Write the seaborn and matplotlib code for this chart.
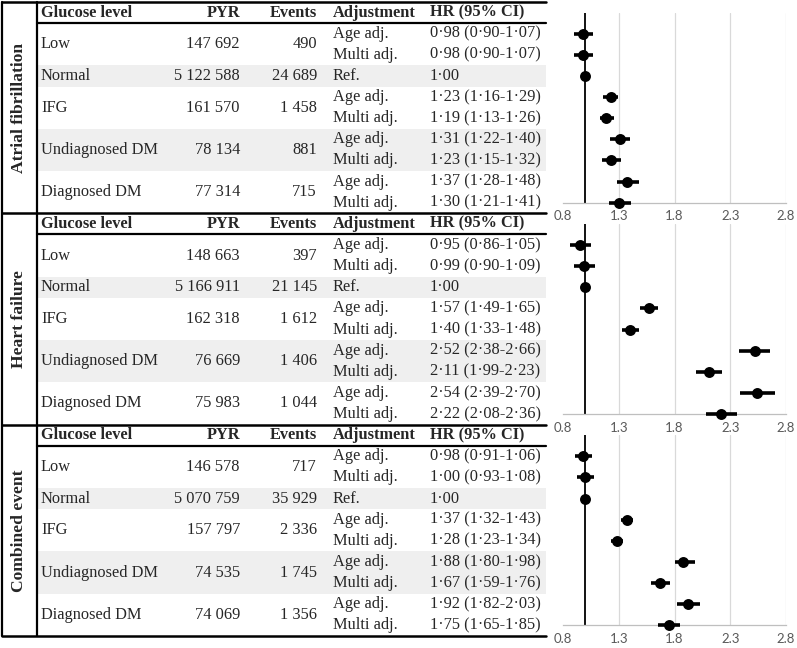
import numpy as np
import pandas as pd
import matplotlib.pyplot as plt
from matplotlib.patches import Rectangle
import seaborn as sns

# ---- data ----
outcomes = ["Atrial fibrillation", "Heart failure", "Combined event"]
glucose_levels = ["Low", "Normal", "IFG", "Undiagnosed DM", "Diagnosed DM"]
adjustments = ["Age adj.", "Multi adj.", "Ref.", "Age adj.", "Multi adj.",
               "Age adj.", "Multi adj.", "Age adj.", "Multi adj."]

pyr_af = [147692, 5122588, 161570, 78134, 77314]
events_af = [490, 24689, 1458, 881, 715]
hr_af = [0.98, 0.98, 1.00, 1.23, 1.19, 1.31, 1.23, 1.37, 1.30]
lo_af = [0.90, 0.90, np.nan, 1.16, 1.13, 1.22, 1.15, 1.28, 1.21]
hi_af = [1.07, 1.07, np.nan, 1.29, 1.26, 1.40, 1.32, 1.48, 1.41]

pyr_hf = [148663, 5166911, 162318, 76669, 75983]
events_hf = [397, 21145, 1612, 1406, 1044]
hr_hf = [0.95, 0.99, 1.00, 1.57, 1.40, 2.52, 2.11, 2.54, 2.22]
lo_hf = [0.86, 0.90, np.nan, 1.49, 1.33, 2.38, 1.99, 2.39, 2.08]
hi_hf = [1.05, 1.09, np.nan, 1.65, 1.48, 2.66, 2.23, 2.70, 2.36]

pyr_ce = [146578, 5070759, 157797, 74535, 74069]
events_ce = [717, 35929, 2336, 1745, 1356]
hr_ce = [0.98, 1.00, 1.00, 1.37, 1.28, 1.88, 1.67, 1.92, 1.75]
lo_ce = [0.91, 0.93, np.nan, 1.32, 1.23, 1.80, 1.59, 1.82, 1.65]
hi_ce = [1.06, 1.08, np.nan, 1.43, 1.34, 1.98, 1.76, 2.03, 1.85]

x_ticks = [0.8, 1.3, 1.8, 2.3, 2.8]

sections = [
    (pyr_af, events_af, hr_af, lo_af, hi_af),
    (pyr_hf, events_hf, hr_hf, lo_hf, hi_hf),
    (pyr_ce, events_ce, hr_ce, lo_ce, hi_ce),
]

# rows of each glucose level inside a section (row 0 is the header)
level_rows = [(1, 2), (3,), (4, 5), (6, 7), (8, 9)]
shaded_rows = [3, 6, 7]


def fmt_int(n):
    return f"{n:,}".replace(",", " ")


def fmt_hr(v):
    return f"{v:.2f}".replace(".", "·")


sns.set_style("white")
plt.rcParams['font.family'] = ['Liberation Serif', 'DejaVu Serif']

W, H = 797, 648
fig = plt.figure(figsize=(W / 100, H / 100), dpi=100)

# table drawn in pixel coordinates
tab = fig.add_axes([0, 0, 1, 1])
tab.set_xlim(0, W)
tab.set_ylim(H, 0)
tab.axis("off")

top = 2
rh = 21.13
x_left, x_lab, x_right = 2, 37, 546
fs = 11.8


def row_y(k, r):
    return top + k * 10 * rh + (r + 0.5) * rh


for k, (pyr, ev, hr, lo, hi) in enumerate(sections):
    s_top = top + k * 10 * rh
    for r in shaded_rows:
        tab.add_patch(Rectangle((x_lab, s_top + r * rh), x_right - x_lab, rh,
                                color="#efefef", lw=0, zorder=0))
    # header
    yh = row_y(k, 0)
    tab.text(41, yh, "Glucose level", fontweight="bold", fontsize=fs, va="center")
    tab.text(240, yh, "PYR", fontweight="bold", fontsize=fs, va="center", ha="right")
    tab.text(317, yh, "Events", fontweight="bold", fontsize=fs, va="center", ha="right")
    tab.text(333, yh, "Adjustment", fontweight="bold", fontsize=fs, va="center")
    tab.text(430, yh, "HR (95% CI)", fontweight="bold", fontsize=fs, va="center")
    tab.plot([x_lab, x_right], [s_top + rh, s_top + rh], color="black", lw=1.6)

    # outcome label
    tab.text((x_left + x_lab) / 2, s_top + 5 * rh, outcomes[k], rotation=90,
             fontweight="bold", fontsize=fs + 0.8, ha="center", va="center")

    for i, rows in enumerate(level_rows):
        yc = np.mean([row_y(k, r) for r in rows])
        tab.text(41, yc, glucose_levels[i], fontsize=fs, va="center")
        tab.text(240, yc, fmt_int(pyr[i]), fontsize=fs, va="center", ha="right")
        tab.text(317, yc, fmt_int(ev[i]), fontsize=fs, va="center", ha="right")

    for j in range(9):
        y = row_y(k, j + 1)
        tab.text(333, y, adjustments[j], fontsize=fs, va="center")
        if np.isnan(lo[j]):
            s = fmt_hr(hr[j])
        else:
            s = f"{fmt_hr(hr[j])} ({fmt_hr(lo[j])}-{fmt_hr(hi[j])})"
        tab.text(430, y, s, fontsize=fs, va="center")

for k in range(4):
    y = top + k * 10 * rh
    tab.plot([x_left, x_right], [y, y], color="black", lw=1.8)
for x in (x_left, x_lab):
    tab.plot([x, x], [top, top + 30 * rh], color="black", lw=1.6)

# forest panels
px0, px1 = 563, 786
for k, (pyr, ev, hr, lo, hi) in enumerate(sections):
    y_top = row_y(k, 0)
    y_bot = row_y(k, 9)
    ax = fig.add_axes([px0 / W, 1 - y_bot / H, (px1 - px0) / W, (y_bot - y_top) / H])
    df = pd.DataFrame({"row": np.arange(1, 10), "hr": hr, "lo": lo, "hi": hi})

    ax.hlines(df["row"], df["lo"], df["hi"], color="black", lw=2.6,
              zorder=3, clip_on=False)
    sns.scatterplot(data=df, x="hr", y="row", color="black", s=62,
                    edgecolor="black", linewidth=0, zorder=4, clip_on=False,
                    ax=ax, legend=False)
    ax.axvline(1.0, color="black", lw=1.3, zorder=2)

    ax.set_xlim(0.8, 2.8)
    ax.set_ylim(9, 0)
    ax.set_xticks(x_ticks)
    ax.set_xticklabels([f"{t:.1f}" for t in x_ticks], family="Lato",
                       fontsize=9.5, color="#595959")
    ax.set_yticks([])
    ax.set_xlabel("")
    ax.set_ylabel("")
    ax.xaxis.grid(True, color="#d9d9d9", lw=0.9)
    ax.xaxis.get_gridlines()[0].set_visible(False)
    ax.set_axisbelow(True)
    for side in ("top", "left", "right"):
        ax.spines[side].set_visible(False)
    ax.spines["bottom"].set_color("#bfbfbf")
    ax.spines["bottom"].set_linewidth(0.9)
    ax.tick_params(axis="x", direction="out", length=4, width=0.8,
                   color="#bfbfbf", pad=1.5)
    ax.patch.set_alpha(0)

fig.savefig("out.png", dpi=100)
